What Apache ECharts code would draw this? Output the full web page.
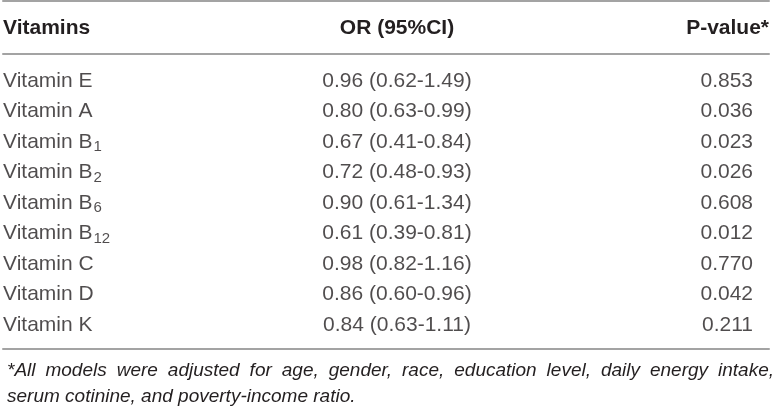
<!DOCTYPE html>
<html>
<head>
<meta charset="utf-8">
<script src="https://cdn.jsdelivr.net/npm/echarts@6/dist/echarts.min.js"></script>
<style>
html,body{margin:0;padding:0;background:#fff;}
#chart{width:772px;height:411px;}
</style>
</head>
<body>
<div id="chart"></div>
<script>
// ---- data ----
var headers = ['Vitamins', 'OR (95%CI)', 'P-value*'];
var vitaminNames = ['Vitamin E', 'Vitamin A', 'Vitamin B', 'Vitamin B', 'Vitamin B', 'Vitamin B', 'Vitamin C', 'Vitamin D', 'Vitamin K'];
var vitaminSubs = ['', '', '1', '2', '6', '12', '', '', ''];
var orValues = [0.96, 0.80, 0.67, 0.72, 0.90, 0.61, 0.98, 0.86, 0.84];
var ciLower = [0.62, 0.63, 0.41, 0.48, 0.61, 0.39, 0.82, 0.60, 0.63];
var ciUpper = [1.49, 0.99, 0.84, 0.93, 1.34, 0.81, 1.16, 0.96, 1.11];
var pValues = [0.853, 0.036, 0.023, 0.026, 0.608, 0.012, 0.770, 0.042, 0.211];
var footLine1 = '*All models were adjusted for age, gender, race, education level, daily energy intake,';
var footLine2 = 'serum cotinine, and poverty-income ratio.';

// ---- styles ----
var FONT = 'Liberation Sans';
var TXT = '#231f20';
var LINE = '#a3a3a3';
var FS = 21;
var FOOT_FS = 19;

// justify first footnote line by widening spaces
var cv = document.createElement('canvas').getContext('2d');
cv.font = 'italic ' + FOOT_FS + 'px "' + FONT + '"';
var words1 = footLine1.split(' ');
var wordsW = 0;
words1.forEach(function (w) { wordsW += cv.measureText(w).width; });
var spW = (767 - wordsW) / (words1.length - 1);
var footText = words1.join('{sp| }') + '\n' + footLine2;

var chart = echarts.init(document.getElementById('chart'));

function colData(col) {
  return vitaminNames.map(function (n, i) { return [col, i]; });
}

var baseLabel = {
  show: true,
  fontFamily: FONT,
  fontSize: FS,
  color: TXT
};

function lineAxis(pos, offset) {
  return {
    type: 'category',
    data: headers,
    boundaryGap: false,
    position: pos,
    offset: offset,
    axisLine: { show: true, onZero: false, lineStyle: { color: LINE, width: 2 } },
    axisTick: { show: false },
    axisLabel: { show: false },
    splitLine: { show: false }
  };
}

var option = {
  animation: false,
  backgroundColor: '#fff',
  title: {
    left: 2,
    top: 353,
    text: footText,
    textStyle: {
      fontFamily: FONT,
      fontSize: FOOT_FS,
      fontStyle: 'italic',
      fontWeight: 'normal',
      color: TXT,
      lineHeight: 26,
      rich: {
        sp: { width: spW, fontFamily: FONT, fontSize: FOOT_FS, fontStyle: 'italic', lineHeight: 26 }
      }
    }
  },
  grid: { left: 2, right: 2, top: 54, bottom: 62 },
  xAxis: [
    {
      type: 'category',
      data: headers,
      boundaryGap: false,
      position: 'top',
      axisLine: { show: true, onZero: false, lineStyle: { color: LINE, width: 2 } },
      axisTick: { show: false },
      splitLine: { show: false },
      axisLabel: {
        show: true,
        margin: 26,
        verticalAlign: 'middle',
        alignMinLabel: 'left',
        alignMaxLabel: 'right',
        fontFamily: FONT,
        fontSize: FS,
        fontWeight: 'bold',
        color: TXT,
        formatter: function (v, i) { return i === 1 ? '{mid|' + v + '}' : v; },
        rich: { mid: { padding: [0, 0, 0, 22], fontFamily: FONT, fontSize: FS, fontWeight: 'bold', color: TXT } }
      }
    },
    lineAxis('top', 53),
    lineAxis('bottom', 0)
  ],
  yAxis: {
    type: 'value',
    inverse: true,
    min: -0.885,
    max: 8.787,
    show: false
  },
  series: [
    {
      type: 'scatter',
      symbolSize: 0,
      silent: true,
      data: colData(0),
      label: Object.assign({}, baseLabel, {
        position: 'right',
        distance: 0,
        formatter: function (p) {
          var i = p.dataIndex;
          return vitaminNames[i] + (vitaminSubs[i] ? '{sub|' + vitaminSubs[i] + '}' : '');
        },
        rich: {
          sub: { fontFamily: FONT, fontSize: 15, color: TXT, padding: [10, 0, 0, 1] }
        }
      })
    },
    {
      type: 'scatter',
      symbolSize: 0,
      silent: true,
      data: colData(1),
      label: Object.assign({}, baseLabel, {
        position: 'inside',
        offset: [11, 0],
        formatter: function (p) {
          var i = p.dataIndex;
          return orValues[i].toFixed(2) + ' (' + ciLower[i].toFixed(2) + '-' + ciUpper[i].toFixed(2) + ')';
        }
      })
    },
    {
      type: 'scatter',
      symbolSize: 0,
      silent: true,
      data: colData(2),
      label: Object.assign({}, baseLabel, {
        position: 'left',
        distance: 16,
        formatter: function (p) { return pValues[p.dataIndex].toFixed(3); }
      })
    }
  ]
};
chart.setOption(option);
</script>
</body>
</html>
